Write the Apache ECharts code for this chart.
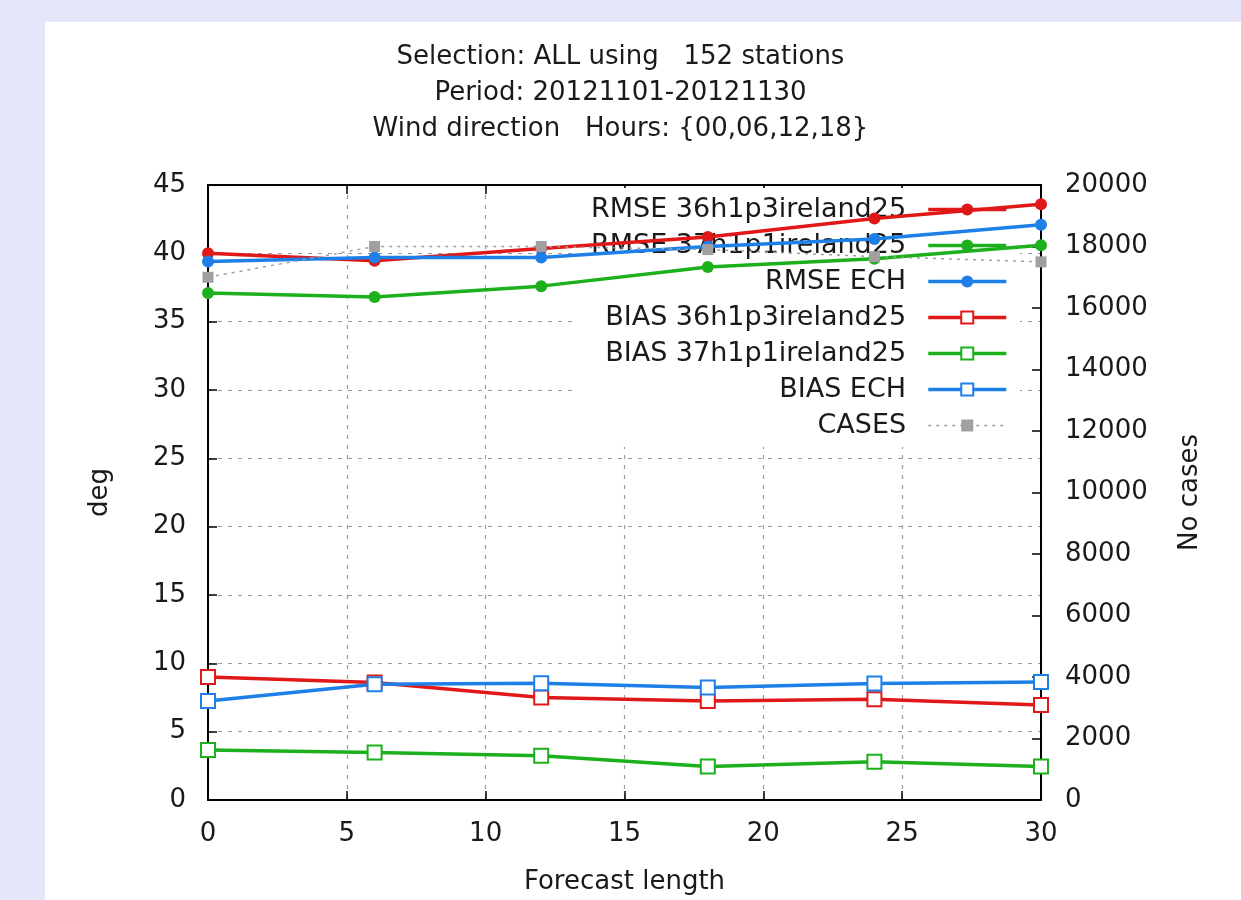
<!DOCTYPE html>
<html>
<head>
<meta charset="utf-8">
<script src="https://cdn.jsdelivr.net/npm/echarts@6/dist/echarts.min.js"></script>
<style>
  html, body { margin: 0; padding: 0; }
  body { width: 1241px; height: 900px; background: #e6e6fa; position: relative; overflow: hidden; }
  #panel { position: absolute; left: 45px; top: 22px; right: 0; bottom: 0; background: #ffffff; }
  #chart { position: absolute; left: 0; top: 0; width: 1241px; height: 900px; }
</style>
</head>
<body>
<div id="panel"></div>
<div id="chart"></div>
<script>
// ---- data ----
const hours = [0, 6, 12, 18, 24, 30];
const rmse36 = [40.0, 39.45, 40.35, 41.2, 42.55, 43.6];
const rmse37 = [37.1, 36.8, 37.6, 39.0, 39.6, 40.6];
const rmseEch = [39.4, 39.7, 39.7, 40.5, 41.05, 42.1];
const bias36 = [9.0, 8.6, 7.5, 7.25, 7.38, 6.96];
const bias37 = [3.65, 3.48, 3.24, 2.46, 2.8, 2.46];
const biasEch = [7.25, 8.47, 8.55, 8.23, 8.52, 8.64];
const cases = [17000, 18000, 18000, 17900, 17670, 17500];

const seriesNames = ['RMSE 36h1p3ireland25', 'RMSE 37h1p1ireland25', 'RMSE ECH',
  'BIAS 36h1p3ireland25', 'BIAS 37h1p1ireland25', 'BIAS ECH', 'CASES'];
const xTicks = [0, 30, 5];
const yTicks = [0, 45, 5];
const y2Ticks = [0, 20000, 2000];
const titleLines = ['Selection: ALL using   152 stations', 'Period: 20121101-20121130', 'Wind direction   Hours: {00,06,12,18}'];

const RED = '#e01818', GREEN = '#1cb01c', BLUE = '#1e80e6', GREY = '#a0a0a0';
const FONT = 'DejaVu Sans';
const LW = 3.5;

function pts(ys) { return hours.map((h, i) => [h, ys[i]]); }

function rmseSeries(name, ys, color) {
  return {
    name, type: 'line', data: pts(ys), z: 3,
    symbol: 'circle', symbolSize: 12,
    lineStyle: { color, width: LW },
    itemStyle: { color },
  };
}
function biasSeries(name, ys, color) {
  return {
    name, type: 'line', data: pts(ys), z: 3,
    symbol: 'emptyRect', symbolSize: 14,
    lineStyle: { color, width: LW },
    itemStyle: { color, borderColor: color, borderWidth: 2.5 },
  };
}

const axisLine = { show: true, onZero: false, lineStyle: { color: '#000', width: 2 } };
const axisTick = { show: true, inside: true, length: 9, lineStyle: { color: '#000', width: 1.5 } };
const splitLine = { show: true, lineStyle: { color: '#9a9a9a', width: 1.2, type: [4, 6] } };
const labelStyle = { fontFamily: FONT, fontSize: 26, color: '#1a1a1a' };

const chart = echarts.init(document.getElementById('chart'), null, { renderer: 'canvas' });
chart.setOption({
  animation: false,
  backgroundColor: 'transparent',
  title: {
    text: titleLines.join('\n'),
    left: 'center',
    top: 34,
    textStyle: { fontFamily: FONT, fontSize: 26, fontWeight: 'normal', color: '#1a1a1a', lineHeight: 36 },
  },
  grid: { left: 208, right: 200, top: 185, bottom: 99, containLabel: false },
  legend: {
    data: seriesNames.map(n => ({
      name: n,
      lineStyle: n === 'CASES' ? { width: 1.5, type: [3, 5] } : { width: LW },
    })),
    orient: 'vertical',
    align: 'right',
    right: 221,
    top: 188,
    z: 1,
    padding: [8, 12, 8, 18],
    backgroundColor: '#ffffff',
    itemWidth: 78,
    itemHeight: 15,
    itemGap: 9,
    selectedMode: false,
    formatter: n => n + '  ',
    textStyle: { fontFamily: FONT, fontSize: 27, color: '#1a1a1a', lineHeight: 27 },
  },
  xAxis: [{
    type: 'value', position: 'bottom', min: xTicks[0], max: xTicks[1], interval: xTicks[2],
    name: 'Forecast length', nameLocation: 'middle', nameGap: 69,
    nameTextStyle: { fontFamily: FONT, fontSize: 26, color: '#1a1a1a' },
    axisLine, axisTick, splitLine,
    axisLabel: Object.assign({ margin: 21 }, labelStyle),
  }, {
    type: 'value', position: 'top', min: xTicks[0], max: xTicks[1], interval: xTicks[2],
    axisLine, axisTick, splitLine: { show: false }, axisLabel: { show: false },
  }],
  yAxis: [{
    type: 'value', position: 'left', min: yTicks[0], max: yTicks[1], interval: yTicks[2],
    name: 'deg', nameLocation: 'middle', nameGap: 95, nameRotate: 90,
    nameTextStyle: { fontFamily: FONT, fontSize: 26, color: '#1a1a1a' },
    axisLine, axisTick, splitLine,
    axisLabel: Object.assign({ margin: 22 }, labelStyle),
  }, {
    type: 'value', position: 'right', min: y2Ticks[0], max: y2Ticks[1], interval: y2Ticks[2],
    name: 'No cases', nameLocation: 'middle', nameGap: 136, nameRotate: 90,
    nameTextStyle: { fontFamily: FONT, fontSize: 26, color: '#1a1a1a' },
    axisLine, axisTick, splitLine: { show: false },
    axisLabel: Object.assign({ margin: 24, formatter: v => String(v) }, labelStyle),
  }],
  series: [
    rmseSeries(seriesNames[0], rmse36, RED),
    rmseSeries(seriesNames[1], rmse37, GREEN),
    rmseSeries(seriesNames[2], rmseEch, BLUE),
    biasSeries(seriesNames[3], bias36, RED),
    biasSeries(seriesNames[4], bias37, GREEN),
    biasSeries(seriesNames[5], biasEch, BLUE),
    {
      name: seriesNames[6], type: 'line', yAxisIndex: 1, data: pts(cases), z: 3,
      symbol: 'rect', symbolSize: 11,
      lineStyle: { color: GREY, width: 1.5, type: [3, 5] },
      itemStyle: { color: GREY },
    },
  ],
});
</script>
</body>
</html>
